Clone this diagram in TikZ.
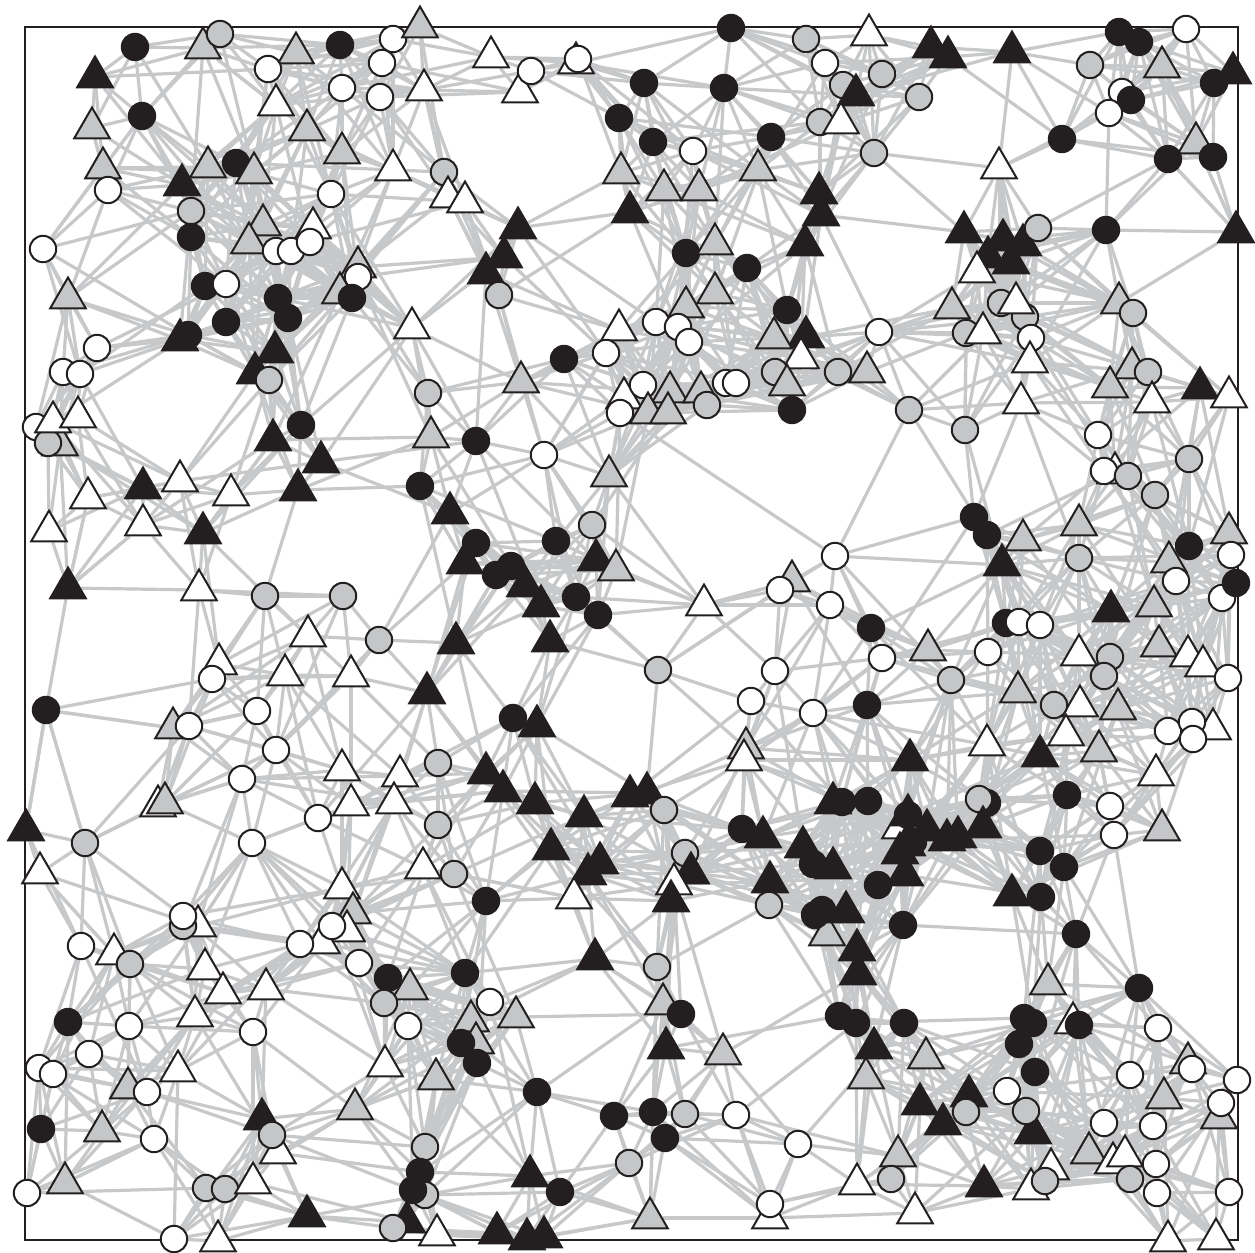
\documentclass[tikz,border=0pt]{standalone}
\usetikzlibrary{shapes.geometric}
\definecolor{edgegray}{RGB}{199,200,202}
\definecolor{nodegray}{RGB}{196,198,200}
\definecolor{nodeblack}{RGB}{35,31,32}
\pgfdeclarelayer{bg}
\pgfsetlayers{bg,main}
\newcount\ci \newcount\cj \newcount\cn \newcount\dx \newcount\dy \newcount\dd \newcount\hh
\newcount\kbA \newcount\kbB \newcount\kbC \newcount\kbD
\newcount\kiA \newcount\kiB \newcount\kiC \newcount\kiD \newcount\ktmp
\newcount\rone \newcount\rtwo \newcount\rdiff
\def\drawedge#1#2{\edef\edgetmp{\noexpand\draw[linkline] (n#1) -- (n#2);}\edgetmp}
\def\bubswap#1#2#3#4{\ifnum#2<#1\relax \ktmp=#1\relax #1=#2\relax #2=\ktmp \ktmp=#3\relax #3=#4\relax #4=\ktmp \fi}
\def\innerloop{%
  \ifnum\cj>\cn\else
    \ifnum\cj=\ci\else
      \dx=\numexpr\curx-\csname px\the\cj\endcsname\relax
      \dy=\numexpr\cury-\csname py\the\cj\endcsname\relax
      \dd=\numexpr\dx*\dx+\dy*\dy\relax
      \ifnum\cj>\ci
        \ifnum\dd<\rone
          \drawedge{\the\ci}{\the\cj}%
        \else\ifnum\dd<\rtwo
          \hh=\numexpr\ci*7919+\cj*6271+\ci*\cj*13\relax
          \hh=\numexpr\hh-(\hh/1000)*1000+500\relax
          \ifnum\numexpr\hh*\rdiff\relax<\numexpr 550*(\rtwo-\dd)\relax
            \drawedge{\the\ci}{\the\cj}%
          \fi
        \fi\fi
      \fi
      \ifnum\dd<\kbD
        \kbD=\dd \kiD=\cj
        \bubswap\kbC\kbD\kiC\kiD
        \bubswap\kbB\kbC\kiB\kiC
        \bubswap\kbA\kbB\kiA\kiB
      \fi
    \fi
    \advance\cj by 1
    \expandafter\innerloop
  \fi}
\def\knnedge#1#2{\ifnum#1<\rone\else\ifnum#2>0 \drawedge{\the\ci}{\the#2}\fi\fi}
\def\outerloop{%
  \ifnum\ci>\cn\else
    \edef\curx{\csname px\the\ci\endcsname}%
    \edef\cury{\csname py\the\ci\endcsname}%
    \kbA=99999999 \kbB=99999999 \kbC=99999999 \kbD=99999999
    \kiA=0 \kiB=0 \kiC=0 \kiD=0
    \cj=1 \innerloop
    \knnedge\kbA\kiA \knnedge\kbB\kiB \knnedge\kbC\kiC \knnedge\kbD\kiD
    \advance\ci by 1
    \expandafter\outerloop
  \fi}
\tikzset{
  linkline/.style={draw=edgegray, line width=1.6pt},
  Nc/.style={circle, draw=nodeblack, line width=1pt, minimum size=13.2pt, inner sep=0pt},
  Nt/.style={regular polygon, regular polygon sides=3, draw=nodeblack, line width=1pt, minimum size=20.5pt, inner sep=0pt, yshift=-2.5pt},
  Nkc/.style={Nc, fill=nodeblack},
  Ngc/.style={Nc, fill=nodegray},
  Nwc/.style={Nc, fill=white},
  Nkt/.style={Nt, fill=nodeblack},
  Ngt/.style={Nt, fill=nodegray},
  Nwt/.style={Nt, fill=white},
  frameline/.style={draw=nodeblack, line width=1.2pt}
}
\begin{document}
\begin{tikzpicture}[x=0.5pt, y=-0.5pt]
\useasboundingbox (0,0) rectangle (1255,1253);
\foreach \x/\y/\t [count=\k] in {
135/47/kc, 95/72/kt, 203/43/gt, 220/34/gc, 296/48/gt, 340/45/kc, 393/39/wc, 382/63/wc, 268/69/wc, 342/88/wc,
380/97/wc, 276/100/wt, 307/125/gt, 342/148/gt, 393/165/wt, 142/116/kc, 92/123/gt, 103/163/gt, 108/190/wc, 208/162/gt,
236/163/kc, 254/168/gt, 182/180/kt, 331/194/wc, 191/211/gc, 191/237/kc, 263/220/gt, 313/223/wt, 249/238/gt, 276/251/wc,
291/251/wc, 310/242/wc, 43/249/wc, 358/262/gt, 358/277/wc, 340/288/gt, 352/298/kc, 205/286/kc, 226/284/wc, 278/298/kc,
288/318/kc, 226/322/kc, 68/293/gt, 412/323/wt, 180/335/kt, 188/335/kc, 275/347/kt, 255/368/kt, 269/380/gc, 97/348/wc,
63/372/wc, 80/374/wc, 428/393/gc, 420/22/gt, 424/85/wt,
491/52/wt, 520/87/wt, 531/71/wc, 576/58/wt, 578/59/wc, 731/28/kc, 806/39/gc, 825/63/wc, 644/83/kc, 724/88/kc,
619/118/kc, 653/142/kc, 693/151/wc, 771/137/kc, 820/122/gc, 444/172/gc, 448/192/wt, 465/197/wt, 621/168/gt, 664/185/gt,
699/185/gt, 758/165/gt, 819/188/kt, 821/210/kt, 630/207/kt, 518/223/kt, 504/252/kt, 486/268/kt, 499/295/gc, 686/253/kc,
715/239/gt, 747/268/kc, 805/240/kt, 686/302/gt, 715/288/gt, 787/310/kc, 806/332/kt, 774/333/gt, 801/353/wt, 619/325/wt,
656/322/wc, 678/327/wc, 689/342/wc, 606/353/wc, 564/359/kc, 521/377/gt, 624/393/wt, 643/385/wc, 670/387/gt, 701/387/gt,
726/383/wc, 736/383/wc, 707/405/gc, 775/372/gc, 787/380/gt, 792/410/kc, 620/413/wc, 648/408/gt, 668/408/gt,
838/372/gc, 869/30/wt, 931/42/kt, 948/52/kt, 1012/47/kt, 1119/32/kc, 1139/42/kc, 1186/29/wc, 1090/65/gc, 1162/62/gt,
1233/68/kt, 1214/83/kc, 1122/92/wc, 1131/100/kc, 1109/113/wc, 1196/138/gt, 1168/159/kc, 1213/157/kc, 1062/139/kc, 882/74/gc,
843/85/gc, 856/90/kt, 919/97/gc, 841/118/wt, 874/153/gc, 999/163/wt, 964/227/kt, 1003/235/kt, 988/252/kt, 1011/258/kt,
1023/240/kt, 1038/228/gc, 977/267/wt, 1106/230/kc, 1236/227/kt, 952/303/gt, 966/333/gc, 983/328/wt, 1001/303/gc, 1025/317/gc,
1031/338/wc, 1016/298/wt, 1030/357/wt, 879/332/wc, 867/367/gt, 1021/398/wt, 909/410/gc, 1119/298/gt, 1133/313/gc, 1132/363/gt,
1148/372/gc, 1110/382/gt, 1152/397/wt, 1200/383/kt, 1229/392/wt,
36/427/wc, 60/440/gt, 48/443/gc, 53/417/wt, 78/412/wt, 143/483/kt, 180/476/wt, 88/493/wt, 231/490/wt, 49/526/wt,
143/520/wt, 203/528/kt, 273/435/kt, 301/425/kc, 321/457/kt, 298/485/kt, 420/486/kc, 68/583/kt, 199/585/wt, 265/596/gc,
343/596/gc, 308/631/wt, 379/640/gc, 219/659/wt, 212/679/wc, 285/670/wt, 351/671/wt, 46/710/kc, 257/711/wc, 173/723/gt,
189/726/wc, 276/750/wc, 242/779/wc, 342/765/wt, 400/771/wt, 394/798/wt, 351/800/wt, 158/801/wt, 165/798/gt, 318/818/wc,
26/825/kt, 85/843/gc, 252/843/wc, 427/688/kt,
431/432/gt, 476/441/kc, 544/455/wc, 609/471/gt, 450/508/kt, 592/525/gc, 556/541/kc, 476/543/kc, 465/558/kt, 496/575/kc,
511/566/kc, 525/581/kt, 541/601/kt, 596/555/kt, 616/565/gt, 576/597/kc, 598/615/kc, 704/600/wt, 792/576/gt, 780/590/wc,
835/556/wc, 830/605/wc, 456/638/kt, 550/636/kt, 658/670/gc, 775/671/wc, 751/701/wc, 813/713/wc, 513/718/kc, 537/721/kt,
746/743/gt, 744/755/wt, 438/763/gc, 486/768/kt, 503/786/kt, 535/798/kt, 584/811/kt, 630/791/kt, 647/788/kt, 664/810/gc,
438/825/gc, 833/798/kt, 842/802/kc, 742/829/kc, 763/832/kt, 803/842/kt,
965/430/gc, 1098/435/wc, 1189/459/gc, 1115/468/wt, 1104/471/wc, 1128/476/gc, 1155/495/gc, 974/517/kc, 987/535/kc, 1023/535/gt,
1002/560/kt, 1079/520/gt, 1079/558/gc, 1229/528/gt, 1189/546/kc, 1169/557/gt, 1176/581/wc, 1231/555/wc, 1222/598/wc, 1236/583/kc,
1111/606/kt, 1154/601/gt, 1006/623/kc, 1019/622/wc, 1040/625/wc, 871/628/kc, 882/658/wc, 928/645/gt, 988/652/wc, 951/680/gc,
1079/650/wt, 1110/657/gc, 1104/676/gc, 1159/641/gt, 1188/651/wt, 1203/661/wt, 1228/678/wc, 1018/687/gt, 1080/701/wt, 1054/705/gc,
1118/704/gt, 867/705/kc, 1066/730/wt, 1168/731/wc, 1213/724/wt, 1192/722/wc, 1193/739/wc, 987/740/wt, 1040/751/kt, 1099/746/gt,
910/755/kt, 1156/770/wt, 1067/795/kc, 1110/806/wc, 987/803/kc, 979/799/gc, 868/801/kc, 983/822/kt, 1162/825/gt, 1114/835/wc,
900/823/wt, 908/810/kt, 908/815/kc, 927/825/kt, 947/835/kt, 958/832/kt,
907/840/kt, 913/842/kc, 900/848/kt, 813/864/kc, 833/863/kt, 770/877/kt, 905/870/kt, 878/885/kc, 1012/890/kt, 769/905/gc,
827/930/gt, 815/915/kc, 822/910/kc, 846/907/kt, 903/925/kc, 857/945/kt, 858/969/kt, 1040/851/kc, 1064/867/kc, 1041/897/kc,
1076/934/kc,
551/844/kt, 600/858/kt, 588/869/kt, 574/893/wt, 454/874/gc, 423/863/wt, 486/901/kc, 685/853/gc, 691/868/kt, 674/879/wt,
671/896/kt, 595/954/kt, 657/967/gc, 663/999/gt, 681/1014/kc, 666/1043/kt, 723/1049/gt, 465/973/kc, 490/1002/wc, 471/1016/gt,
516/1012/gt, 476/1038/gt, 461/1043/kc, 477/1063/kc, 436/1074/gt, 537/1092/kc, 614/1116/kc, 653/1112/kc, 665/1138/kc, 685/1114/gc,
736/1115/wc, 798/1144/wc, 629/1163/gc, 530/1171/kt, 560/1192/kc, 650/1213/gt, 770/1213/wt, 770/1204/wc, 497/1228/kt, 527/1234/kt,
544/1232/kt, 437/1230/wt, 425/1147/gc, 420/1172/kc, 425/1195/gc, 413/1190/kc, 407/1217/kt, 393/1228/gc,
40/868/wt, 342/883/wt, 353/908/gt, 198/921/wt, 183/926/gc, 183/916/wc, 347/926/wt, 322/938/wt, 332/926/wc, 300/944/wc,
81/946/wc, 114/949/wt, 130/964/gc, 205/964/wt, 223/988/wt, 266/984/wt, 359/963/wc, 388/978/kc, 410/984/gt, 384/1003/gc,
408/1026/wc, 195/1011/wt, 68/1022/kc, 129/1026/wc, 253/1032/wc, 89/1054/wc, 39/1068/wc, 53/1074/wc, 178/1066/wt, 385/1061/wt,
128/1083/gt, 147/1092/wc, 355/1104/gt, 41/1129/kc, 102/1126/gt, 154/1139/wc, 262/1114/kt, 278/1148/wt, 272/1135/gc, 65/1178/gt,
27/1193/wc, 206/1188/gc, 225/1189/gc, 253/1178/wt, 307/1211/kt, 174/1239/wc, 218/1236/wt,
839/1016/kc, 856/1023/kc, 904/1023/kc, 1048/979/gt, 1139/988/kc, 1024/1018/kc, 1033/1023/kc, 1073/1018/wt, 1079/1025/kc, 1019/1044/kc,
874/1043/kt, 866/1073/gt, 926/1053/gt, 1158/1028/wc, 1035/1072/kc, 1188/1058/gt, 1192/1069/wc, 1130/1075/wc, 1237/1080/wc, 1007/1091/wc,
1164/1093/gt, 920/1099/kt, 969/1091/kt, 966/1112/gc, 1033/1128/kt, 1026/1111/gc, 1219/1113/gt, 1221/1103/wc, 943/1119/kt, 1104/1123/wc,
1153/1126/wc, 1089/1148/gt, 1113/1158/wt, 1125/1151/wt, 1156/1164/wc, 898/1151/gt, 1051/1164/wt, 1031/1184/wt, 1045/1181/gc, 1130/1179/gc,
1157/1193/wc, 1229/1192/wc, 984/1181/kt, 857/1179/wt, 891/1179/gc, 915/1208/wt, 1168/1236/wt, 1216/1234/wt}
{
  \node[N\t] (n\k) at (\x,\y) {};
  \expandafter\xdef\csname px\k\endcsname{\x}%
  \expandafter\xdef\csname py\k\endcsname{\y}%
  \xdef\nodecount{\k}%
}
\begin{pgfonlayer}{bg}
  \draw[frameline] (25,27) rectangle (1238,1240);
  \cn=\nodecount\relax
  \rone=8100\relax
  \rtwo=32400\relax
  \rdiff=24300\relax
  \ci=1\relax
  \outerloop
  \draw[linkline] (n112) -- (n234);
  \draw[linkline] (n161) -- (n234);
  \draw[linkline] (n217) -- (n231);
\end{pgfonlayer}
\end{tikzpicture}
\end{document}
